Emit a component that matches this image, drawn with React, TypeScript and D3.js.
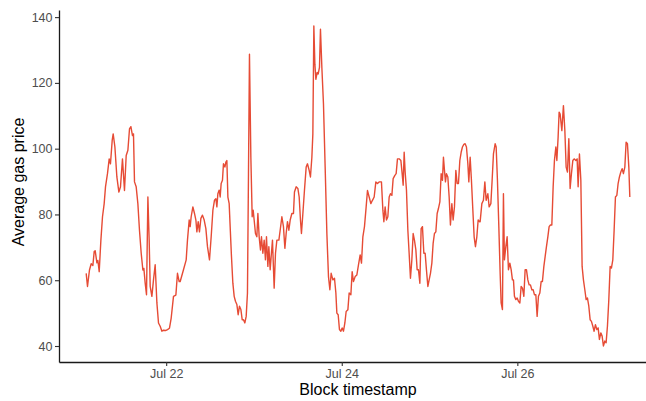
import React, { useEffect, useRef } from "react";
import * as d3 from "d3";

// hours after midnight (UTC) of the first day, and the average gas price at that moment
const startDay = "2023-07-21";

const hoursFromStart = [
  2.13, 2.49, 3.03, 3.5, 3.96, 4.32, 4.59, 5.06, 5.33, 5.69, 6.15, 6.59, 7.05, 7.41, 7.95, 8.42, 8.77, 9.24, 9.51, 9.98,
  10.52, 11.07, 11.51, 12.05, 12.6, 13.07, 13.53, 13.97, 14.35, 14.79, 15.06, 15.34, 15.8, 16.26, 16.7, 17.17, 17.63, 17.9, 18.26, 18.62,
  19.0, 19.35, 19.63, 20.09, 20.53, 20.99, 21.46, 21.9, 22.36, 22.83, 23.26, 23.81, 24.36, 24.9, 25.37, 26.0, 26.65, 27.09, 27.55,
  27.83, 28.73, 29.47, 29.82, 30.29, 30.56, 30.83, 31.3, 31.74, 32.12, 32.39, 32.75, 33.1, 33.49, 33.92, 34.39, 34.85, 35.29, 35.84, 36.3,
  36.77, 37.2, 37.59, 37.86, 38.13, 38.49, 38.76, 39.03, 39.39, 39.66, 40.05, 40.32, 40.59, 40.87, 41.22, 41.49, 41.85, 42.23, 42.59, 42.94,
  43.33, 43.68, 44.04, 44.42, 44.78, 45.13, 45.51, 45.87, 46.22, 46.5, 46.77, 47.15, 47.51, 47.78, 48.05, 48.41, 48.79, 49.07, 49.42, 49.78,
  50.05, 50.43, 50.79, 51.14, 51.42, 51.8, 52.07, 52.43, 52.7, 53.06, 53.52, 53.88, 54.26, 54.81,
  55.16, 55.63, 56.06, 56.45, 56.8, 57.16, 57.54, 57.9, 58.36, 58.8, 59.07, 59.54, 60.0, 60.36, 60.71, 60.98, 61.37, 61.8, 62.27, 62.62,
  63.09, 63.44, 63.83, 64.1, 64.37, 64.65, 64.92, 65.28, 65.55, 65.91, 66.18, 66.56, 67.0, 67.46, 67.93, 68.37, 68.75, 69.1, 69.57, 70.01,
  70.39, 70.66, 71.02, 71.37, 71.75, 72.11, 72.47, 72.85, 73.2, 73.67, 74.02, 74.49, 74.84, 75.2, 75.66, 76.13, 76.57, 77.03, 77.39, 77.77,
  78.21, 78.67, 79.03, 79.49, 79.95, 80.39, 80.86, 81.32, 81.76, 82.22,
  82.5, 82.85, 83.24, 83.51, 83.86, 84.22, 84.6, 84.96, 85.31, 85.7, 86.05, 86.52, 86.87, 87.23, 87.69, 88.16, 88.51, 88.79, 89.06, 89.33,
  89.69, 90.07, 90.42, 90.78, 91.16, 91.52, 91.87, 92.26, 92.61, 92.97, 93.35, 93.7, 94.06, 94.44, 94.8, 95.15, 95.54, 95.89, 96.25, 96.63,
  96.98, 97.34, 97.72, 98.08, 98.43, 98.82, 99.17, 99.53, 99.8, 100.08, 100.35, 100.62, 101.0, 101.36, 101.71, 102.1, 102.45, 102.81, 103.19, 103.54,
  103.9, 104.28, 104.64, 104.99, 105.38, 105.73, 106.09, 106.47, 106.74, 107.1, 107.45, 107.84, 108.19, 108.55, 108.93, 109.29, 109.64,
  109.83, 110.3, 110.73, 111.12, 111.47, 111.94, 112.29, 112.76, 113.11, 113.47, 113.93, 114.21, 114.56, 114.94, 115.3, 115.57, 115.93, 116.2, 116.47, 116.86,
  117.21, 117.57, 117.95, 118.31, 118.66, 118.94, 119.21, 119.59, 119.95, 120.3, 120.69, 121.04, 121.4, 121.78, 122.13, 122.49, 122.87, 123.23, 123.58, 123.96,
  124.32, 124.67, 125.06, 125.41, 125.77, 126.15, 126.51, 126.86, 127.25, 127.6, 127.96, 128.34, 128.69, 129.05, 129.43, 129.79, 130.14, 130.53, 130.8, 131.15,
  131.42,
  131.7, 132.17, 132.6, 132.99, 133.34, 133.7, 134.08, 134.43, 134.79, 135.17, 135.53, 135.99, 136.35, 136.62, 136.98, 137.36, 137.71, 138.07, 138.45, 138.81,
  139.16, 139.54, 139.9, 140.26, 140.64, 140.99, 141.35, 141.73, 142.09, 142.44, 142.82, 143.18, 143.53, 143.92, 144.27, 144.63, 145.01, 145.37, 145.72, 146.1,
  146.46, 146.82, 147.2, 147.55, 147.91, 148.29, 148.65, 149.0, 149.39, 149.74, 150.1, 150.48, 150.75,
];

const avgGasPrice = [
  62.1, 58.1, 63.1, 65, 64.5, 68.7, 69, 65.3, 66, 62.6, 72.2, 79.3, 83.3, 88.4, 92.4, 96.9, 95.4, 102.5, 104.5, 100.5,
  91.4, 86.8, 88.4, 96.9, 87.3, 97.9, 99.5, 106, 106.7, 104, 104.5, 89.9, 88.4, 83.3, 75.2, 68.2, 63.1, 63.6, 59.1, 55.6,
  85.3, 72.2, 58.1, 55.1, 60.1, 64.7, 53.1, 47, 46, 44.5, 44.8, 44.7, 45, 45.4, 48.5, 55.1, 55.5, 62.1, 59.6,
  59.6, 63.2, 66.2, 72.2, 78.3, 76.3, 79.3, 82.3, 80.3, 78.3, 74.7, 77.8, 74.7, 78.8, 79.8, 78.3, 75.7, 70.2, 66.2, 73.2,
  81.3, 84.3, 84.8, 82.3, 86.3, 87.4, 85.3, 89.4, 90.4, 95.4, 94.4, 95.9, 96.4, 85.3, 83.3, 76.3, 67.2, 59.1, 55.1, 53.6,
  52.6, 49.5, 52.1, 51.1, 48, 48, 47, 49, 56.1, 92.4, 128.7, 97.4, 79.3, 81.3, 78.3, 74.2, 73.2, 80.3, 73.2, 69.2,
  73.2, 68.2, 72.2, 66.2, 73.2, 64.2, 70.2, 63.2, 67.2, 72.2, 57.6, 68.2, 72.2, 72.2,
  75.2, 79.3, 76.3, 69.7, 74.2, 77.8, 75.2, 78.3, 80.3, 80.3, 86.8, 88.4, 87.9, 85.3, 78.3, 74.2, 80.3, 87.3, 94.4, 95.4,
  93.4, 91.4, 97.4, 104.5, 137.3, 125.7, 121.1, 123.2, 122.7, 124.7, 136.3, 124.7, 113.6, 94.4, 74.2, 61.1, 57.1, 62.1, 60.1, 60.6,
  56.1, 50, 49.5, 45, 44.5, 45.5, 44.5, 47, 50.5, 51, 56.1, 55.6, 62.6, 59.6, 61.1, 61.6, 64.7, 67.7, 65.2, 73.2,
  76.3, 82.3, 87.3, 85.3, 83.3, 84.3, 85.3, 89.9, 89.4, 89.9,
  89.9, 89.9, 81.3, 77.8, 82.3, 78.3, 79.3, 85.3, 86.3, 85.8, 90.9, 91.9, 92.4, 96.9, 96.9, 96.4, 92.4, 88.9, 98.9, 92.9,
  87.4, 75.2, 68.2, 60.6, 66.2, 74.2, 72.2, 69.2, 63.2, 63.2, 59.1, 75.7, 76.3, 68.2, 68.2, 63.2, 58.1, 60.1, 62.1, 65.2,
  71.2, 74.2, 74.7, 80.3, 81.8, 83.8, 92.4, 90.4, 97.4, 93.4, 89.9, 92.4, 91.4, 85.3, 76.8, 83.3, 78.3, 82.3, 93.4, 89.4,
  89.4, 96.4, 98.9, 100.5, 101.3, 101.5, 100.5, 95.4, 89.9, 97.4, 90.4, 81.3, 73.2, 70.2, 73.2, 78.3, 77.8,
  77.8, 83.3, 84.3, 89.9, 84.3, 86.3, 82.3, 83.3, 90.4, 98.4, 101.5, 100.5, 90.4, 76.3, 62.1, 53.1, 51.1, 86.3, 66.2, 70.2,
  73.2, 63.2, 65.2, 63.2, 60.1, 60.1, 55.1, 54.1, 54.6, 53.6, 53.1, 58.1, 57.6, 55.1, 63.2, 63.2, 60.1, 58.6, 58.6, 57.1,
  57.1, 55.6, 55.6, 49, 55.1, 56.1, 59.6, 59.6, 64.2, 67.2, 70.2, 73.2, 76.3, 76.8, 76.8, 88.4, 96.4, 100.5, 96.4, 103.5,
  111.1,
  110.5, 105.5, 113.1, 105.5, 94.4, 92.9, 103, 87.9, 92.4, 96.4, 96.9, 96.4, 96.9, 88.4, 98.4, 90.4, 64.2, 60.1, 57.1, 54.1,
  54.6, 52.1, 48, 47.5, 46, 44.5, 46.5, 45, 45.5, 42, 44, 43, 40, 41.5, 41, 46, 54.1, 64.2, 63.7, 66.2,
  75.2, 85.3, 85.8, 89.4, 91.4, 92.9, 93.9, 92.4, 94.4, 102, 101.5, 94.4, 85.3,
];

const yTicks = [40, 60, 80, 100, 120, 140];
const xTickDays = ["2023-07-22", "2023-07-24", "2023-07-26"];

function GasChart() {
  const svgRef = useRef<SVGSVGElement>(null);

  useEffect(() => {
    const height = 401;
    const margin = { top: 10, left: 59, bottom: 39 };
    const panelRight = 657; // the panel runs a little past the cropped image

    const svg = d3.select(svgRef.current);
    svg.selectAll("*").remove();

    const parseDay = d3.utcParse("%Y-%m-%d");
    const t0 = parseDay(startDay)!.getTime();
    const data = hoursFromStart.map((h, i) => ({
      date: new Date(t0 + h * 3600 * 1000),
      value: avgGasPrice[i],
    }));

    // ggplot style 5% expansion on both axes
    const [dMin, dMax] = d3.extent(data, (d) => d.date.getTime()) as [number, number];
    const dPad = (dMax - dMin) * 0.05;
    const x = d3
      .scaleUtc()
      .domain([new Date(dMin - dPad), new Date(dMax + dPad)])
      .range([margin.left, panelRight]);

    const [vMin, vMax] = d3.extent(avgGasPrice) as [number, number];
    const vPad = (vMax - vMin) * 0.05;
    const y = d3
      .scaleLinear()
      .domain([vMin - vPad, vMax + vPad])
      .range([height - margin.bottom, margin.top]);

    const font = "'Liberation Sans', Arial, Helvetica, sans-serif";

    const line = d3
      .line<{ date: Date; value: number }>()
      .x((d) => x(d.date))
      .y((d) => y(d.value));

    svg
      .append("path")
      .datum(data)
      .attr("d", line)
      .attr("fill", "none")
      .attr("stroke", "#E64B35")
      .attr("stroke-width", 1.4)
      .attr("stroke-linejoin", "round");

    // X axis
    const xAxis = svg
      .append("g")
      .attr("transform", `translate(0,${height - margin.bottom})`)
      .call(
        d3
          .axisBottom(x)
          .tickValues(xTickDays.map((d) => parseDay(d)!))
          .tickFormat((d) => d3.utcFormat("%b %d")(d as Date))
          .tickSize(4)
          .tickSizeOuter(0)
          .tickPadding(3)
      );

    // Y axis
    const yAxis = svg
      .append("g")
      .attr("transform", `translate(${margin.left},0)`)
      .call(d3.axisLeft(y).tickValues(yTicks).tickSize(4).tickSizeOuter(0).tickPadding(2.5));

    [xAxis, yAxis].forEach((g) => {
      g.select(".domain").attr("stroke", "#1a1a1a").attr("stroke-width", 1.3);
      g.selectAll(".tick line").attr("stroke", "#333").attr("stroke-width", 1.1);
      g.selectAll(".tick text")
        .attr("fill", "#4d4d4d")
        .attr("font-size", 12.5)
        .attr("font-family", font);
    });

    // X axis label
    svg
      .append("text")
      .attr("text-anchor", "middle")
      .attr("x", (margin.left + panelRight) / 2)
      .attr("y", 395)
      .attr("font-family", font)
      .attr("font-size", 16)
      .attr("fill", "#000")
      .text("Block timestamp");

    // Y axis label
    svg
      .append("text")
      .attr("text-anchor", "middle")
      .attr("transform", "translate(24,182) rotate(-90)")
      .attr("font-family", font)
      .attr("font-size", 16)
      .attr("fill", "#000")
      .text("Average gas price");
  }, []);

  return (
    <svg
      ref={svgRef}
      width={646}
      height={401}
      style={{ position: "absolute", left: 0, top: 0, background: "#fff" }}
    />
  );
}

export default function App() {
  return <GasChart />;
}
